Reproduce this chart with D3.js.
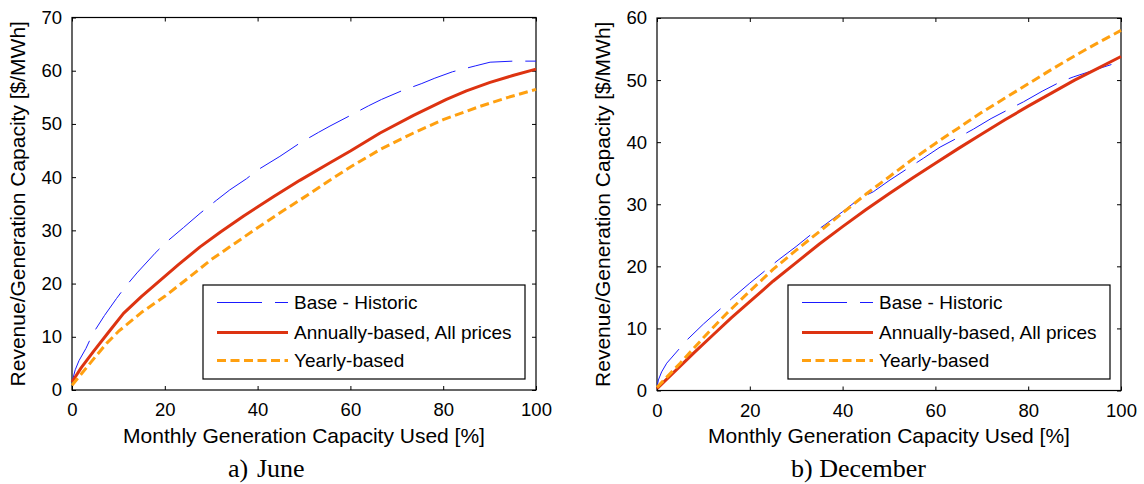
<!DOCTYPE html>
<html>
<head>
<meta charset="utf-8">
<script src="https://cdn.jsdelivr.net/npm/d3@7"></script>
<style>
  html, body { margin: 0; padding: 0; background: #fff; }
  svg { display: block; }
  text { font-family: "Liberation Sans", Arial, sans-serif; fill: #000; }
</style>
</head>
<body>
<svg id="chart" width="1144" height="484"></svg>
<script>
// ---------- DATA ----------
const xTicks = [0, 20, 40, 60, 80, 100];
const juneYTicks = [0, 10, 20, 30, 40, 50, 60, 70];
const decYTicks = [0, 10, 20, 30, 40, 50, 60];

const seriesNames = ["Base - Historic", "Annually-based, All prices", "Yearly-based"];

// June: [capacity used %, revenue $/MWh]
const juneBase = [[0,1.5],[0.7,3.8],[1.5,5.5],[3,7.8],[4.5,10.6],[7,14],[9.6,17.2],[11.4,19.3],[14,22],[17.9,25.7],[20.2,27.7],[24,30.5],[27.6,33.2],[31.2,35.7],[34,37.6],[37.6,39.7],[40.1,41.4],[44.8,43.9],[49.1,46.4],[53.1,48.4],[55.6,49.6],[60,51.6],[63.9,53.4],[66.7,54.6],[71,56.2],[75.4,57.6],[78.2,58.6],[82,59.8],[86.9,60.9],[90.1,61.6],[95,61.8],[100,61.8]];
const juneAnnual = [[0,1.5],[2,4.2],[4.6,7.2],[8,11],[11.1,14.4],[15,17.6],[19,20.6],[23,23.6],[27.6,26.9],[32,29.7],[37,32.7],[43.4,36.3],[49.1,39.4],[55.6,42.7],[60,44.9],[66.4,48.3],[73.6,51.6],[80.7,54.6],[85,56.2],[90.1,57.8],[95,59.1],[100,60.3]];
const juneYearly = [[0,0.9],[2,3],[5,6.2],[7.5,8.8],[10,11],[15,14.6],[20,17.6],[25,21],[30,24.5],[35,27.5],[40,30.5],[45,33.4],[50,36.2],[55,39.1],[60,41.9],[66.4,45.2],[73.6,48.3],[80,50.8],[87.9,53.3],[94,55],[100,56.5]];

// December
const decBase = [[0,0.5],[0.3,1.7],[1,3],[2.1,4.4],[4.2,6.2],[6.4,8.1],[10,10.7],[13.6,13.1],[16.1,14.8],[20,17.3],[23.3,19.3],[26.1,21],[30,23.2],[33.3,25.2],[36.2,26.7],[40,28.8],[43.8,31],[46.6,32],[50,33.8],[54.5,36],[57.4,37.4],[61,39.2],[65.3,40.9],[68.2,42.1],[72,43.8],[76.1,45.4],[79,46.5],[83,48.2],[86.9,49.7],[89.7,50.5],[95,51.8],[100,53]];
const decAnnual = [[0,0.3],[4,3.2],[8,6.1],[12,8.9],[16,11.7],[20,14.3],[25,17.6],[30,20.6],[35,23.6],[40,26.4],[45,29.1],[50,31.7],[55,34.2],[60,36.6],[65,39],[70,41.3],[75,43.6],[80,45.8],[85,47.9],[90,50],[95,51.9],[100,53.8]];
const decYearly = [[0,0.5],[5,4.4],[10,8.5],[15,12.4],[20,16],[25,19.5],[30,22.6],[35,25.6],[40,28.6],[45,31.6],[50,34.4],[55,37.2],[60,39.8],[65,42.3],[70,44.8],[75,47.1],[80,49.4],[85,51.7],[90,53.9],[95,56],[100,58]];

// ---------- STYLES ----------
const styles = [
  { color: "#1a1aff", width: 1, dash: "45,13" },
  { color: "#dd3311", width: 3, dash: null },
  { color: "#ffa010", width: 3, dash: "9,4.5" }
];

const svg = d3.select("#chart");

function panel(opts) {
  const { left, right, top, bottom, yMax, yTicks, series, caption } = opts;
  const g = svg.append("g");
  const x = d3.scaleLinear().domain([0, 100]).range([left, right]);
  const y = d3.scaleLinear().domain([0, yMax]).range([bottom, top]);

  g.append("rect").attr("x", left).attr("y", top)
    .attr("width", right - left).attr("height", bottom - top)
    .attr("fill", "none").attr("stroke", "#000").attr("stroke-width", 1.2);

  const tl = 4;
  const xb = g.append("g").attr("transform", `translate(0,${bottom})`)
    .call(d3.axisBottom(x).tickValues(xTicks).tickSize(-tl).tickPadding(9 + tl));
  const xt = g.append("g").attr("transform", `translate(0,${top})`)
    .call(d3.axisTop(x).tickValues(xTicks).tickSize(-tl).tickFormat(""));
  const yl = g.append("g").attr("transform", `translate(${left},0)`)
    .call(d3.axisLeft(y).tickValues(yTicks).tickSize(-tl).tickPadding(6 + tl));
  const yr = g.append("g").attr("transform", `translate(${right},0)`)
    .call(d3.axisRight(y).tickValues(yTicks).tickSize(-tl).tickFormat(""));
  [xb, xt, yl, yr].forEach(a => {
    a.select(".domain").remove();
    a.selectAll(".tick line").attr("stroke", "#000").attr("stroke-width", 1);
    a.selectAll(".tick text").attr("font-size", 18.5).attr("fill", "#000")
      .style("font-family", "'Liberation Sans', Arial, sans-serif");
  });
  xb.selectAll(".tick text").attr("dy", "0.71em");

  const line = d3.line().x(d => x(d[0])).y(d => y(d[1]));
  series.forEach((s, i) => {
    const st = styles[i];
    g.append("path").datum(s).attr("d", line)
      .attr("fill", "none").attr("stroke", st.color)
      .attr("stroke-width", st.width)
      .attr("stroke-dasharray", st.dash)
      .attr("stroke-linejoin", "round");
  });

  // legend
  const lx = opts.legendX, ly = 285, lw = 322, lh = 94;
  const lg = g.append("g");
  lg.append("rect").attr("x", lx).attr("y", ly).attr("width", lw).attr("height", lh)
    .attr("fill", "#fff").attr("stroke", "#000").attr("stroke-width", 1.2);
  const rows = [17.5, 47.5, 75.5];
  seriesNames.forEach((name, i) => {
    const st = styles[i];
    const yy = ly + rows[i];
    lg.append("line").attr("x1", lx + 14).attr("x2", lx + 85)
      .attr("y1", yy).attr("y2", yy)
      .attr("stroke", st.color).attr("stroke-width", st.width)
      .attr("stroke-dasharray", st.dash);
    lg.append("text").attr("x", lx + 91).attr("y", yy).attr("dy", "0.35em")
      .attr("font-size", 19).text(name);
  });

  g.append("text").attr("x", (left + right) / 2).attr("y", 443)
    .attr("text-anchor", "middle").attr("font-size", 21)
    .text("Monthly Generation Capacity Used [%]");
  g.append("text")
    .attr("transform", `translate(${left - 47},${(top + bottom) / 2}) rotate(-90)`)
    .attr("text-anchor", "middle").attr("font-size", 21)
    .text("Revenue/Generation Capacity [$/MWh]");

  caption.forEach(c => {
    g.append("text").attr("x", c.x).attr("y", 477)
      .style("font-family", "'Liberation Serif', 'Times New Roman', serif")
      .attr("font-size", 26).text(c.t);
  });
}

panel({ left: 72, right: 536, top: 17.5, bottom: 390, yMax: 70, yTicks: juneYTicks,
  series: [juneBase, juneAnnual, juneYearly], legendX: 203,
  caption: [{ x: 228, t: "a)" }, { x: 257, t: "June" }] });

panel({ left: 657, right: 1121, top: 18, bottom: 390.5, yMax: 60, yTicks: decYTicks,
  series: [decBase, decAnnual, decYearly], legendX: 788,
  caption: [{ x: 791, t: "b) December" }] });
</script>
</body>
</html>
